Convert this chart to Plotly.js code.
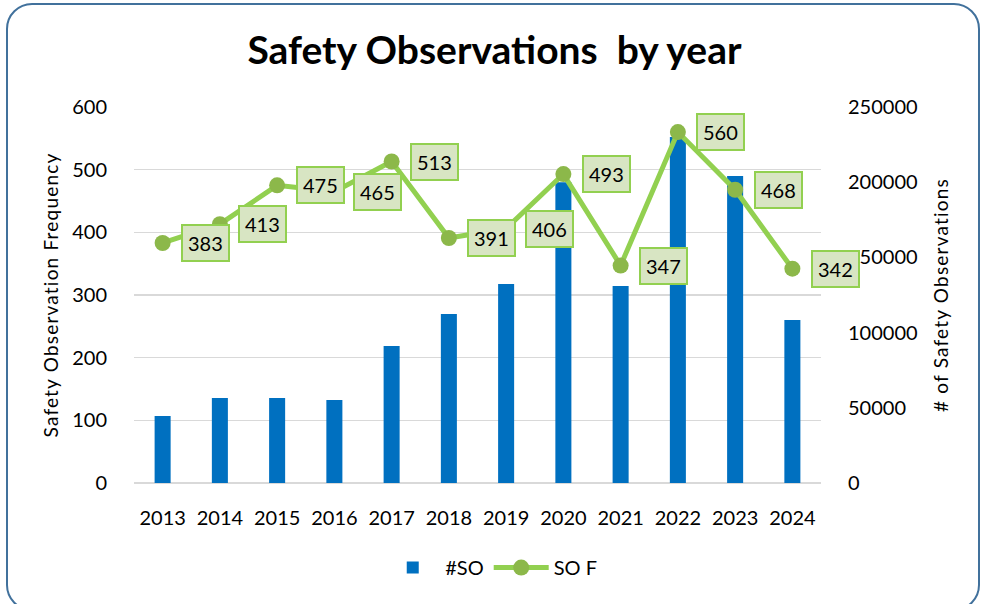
<!DOCTYPE html>
<html>
<head>
<meta charset="utf-8">
<script src="https://cdn.plot.ly/plotly-3.0.1.min.js"></script>
<style>
  body { margin: 0; background: #fff; }
  #wrap { position: relative; width: 981px; height: 604px; overflow: hidden; }
  #plotDiv { position: absolute; left: 0; top: 0; width: 981px; height: 604px; }
  #frame { position: absolute; left: 6px; top: 3px; width: 970px; height: 604px;
           border: 2px solid #41719C; border-radius: 26px; pointer-events: none; }
  .ytitle, .y2title { letter-spacing: 1.2px; }
</style>
</head>
<body>
<div id="wrap">
  <div id="plotDiv"></div>
  <div id="frame"></div>
</div>
<script>
let years = ["2013", "2014", "2015", "2016", "2017", "2018", "2019", "2020", "2021", "2022", "2023", "2024"];
let soCount = [44500, 56500, 56500, 55200, 91100, 112400, 132300, 200000, 131000, 230000, 204100, 108400]; // #SO
let soFreq = [383, 413, 475, 465, 513, 391, 406, 493, 347, 560, 468, 342]; // SO F

let font = "Lato, 'Open Sans', sans-serif";

let data = [
  {
    x: years,
    y: soCount,
    name: "#SO",
    type: "bar",
    yaxis: "y",
    marker: { color: "#0070C0" }
  },
  {
    x: years,
    y: soFreq,
    name: "SO F",
    type: "scatter",
    mode: "lines+markers",
    yaxis: "y2",
    line: { color: "#92D050", width: 5 },
    marker: { color: "#8CB84A", size: 16 }
  }
];

// value labels in green boxes, right of each point
// (x given as category index: a string like "2013" would be read as index 2013)
let labels = [];
for (let i = 0; i < years.length; i++) {
  labels.push({
    x: i,
    y: soFreq[i],
    xref: "x",
    yref: "y2",
    text: String(soFreq[i]),
    showarrow: false,
    xshift: 43,
    font: { family: font, size: 20, color: "#000" },
    bgcolor: "#D8E5C3",
    bordercolor: "#92D050",
    borderwidth: 2,
    borderpad: 5
  });
}

let layout = {
  width: 981,
  height: 604,
  margin: { l: 134, r: 160, t: 107, b: 121 },
  font: { family: font, size: 20, color: "#000" },
  paper_bgcolor: "#fff",
  plot_bgcolor: "#fff",
  title: {
    text: "Safety Observations\u00a0 by year",
    font: { family: font, size: 39, weight: "bold", color: "#000" },
    xref: "container",
    yref: "container",
    x: 0.504,
    xanchor: "center",
    y: 0.917,
    yanchor: "middle"
  },
  bargap: 0.72,
  showlegend: true,
  legend: {
    orientation: "h",
    x: 0.52,
    xanchor: "center",
    y: -0.225,
    yanchor: "middle",
    font: { family: font, size: 20 },
    itemwidth: 55
  },
  xaxis: {
    type: "category",
    range: [-0.5, 11.5],
    ticks: "outside",
    ticklen: 17,
    tickcolor: "rgba(0,0,0,0)",
    showgrid: false,
    showline: false,
    tickfont: { size: 20 }
  },
  yaxis: {
    side: "right",
    range: [0, 250000],
    dtick: 50000,
    tickformat: "d",
    showgrid: false,
    zeroline: false,
    ticks: "outside",
    ticklen: 22,
    tickcolor: "rgba(0,0,0,0)",
    tickfont: { size: 20 },
    title: { text: "# of Safety Observations", font: { size: 19 }, standoff: 18 }
  },
  yaxis2: {
    side: "left",
    overlaying: "y",
    range: [0, 600],
    dtick: 100,
    showgrid: true,
    gridcolor: "#D9D9D9",
    gridwidth: 1.5,
    zeroline: true,
    zerolinecolor: "#D9D9D9",
    zerolinewidth: 1.5,
    ticks: "outside",
    ticklen: 22,
    tickcolor: "rgba(0,0,0,0)",
    tickfont: { size: 20 },
    title: { text: "Safety Observation Frequency", font: { size: 19 }, standoff: 8 }
  },
  annotations: labels
};

Plotly.newPlot("plotDiv", data, layout, { displayModeBar: false, staticPlot: true });
</script>
</body>
</html>
